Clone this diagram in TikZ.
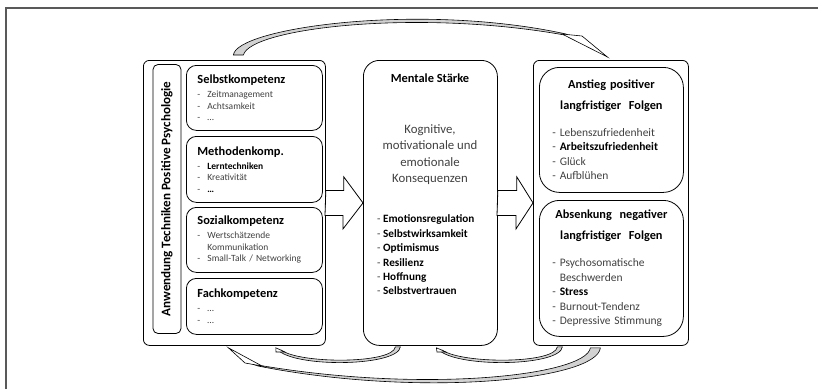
\documentclass[tikz,border=0pt]{standalone}
\usepackage{fontspec}
\setmainfont{Carlito}
\usepackage{tikz}
\definecolor{punktgrau}{HTML}{404040}
\newcommand{\kopf}[1]{{\color{black}\fontsize{12.4}{11.5}\selectfont\bfseries #1}}
\newcommand{\fett}[1]{{\color{black}\bfseries #1}}
\newcommand{\strich}{\makebox[10pt][l]{-}}

\begin{document}
\begin{tikzpicture}[x=1pt, y=-1pt,
  rahmen/.style={draw, line width=0.8pt, rounded corners=6pt},
  kompbox/.style={rahmen, rounded corners=10pt, anchor=north west, minimum width=136,
    text width=114, inner xsep=11pt, align=left, text=punktgrau,
    font=\fontsize{9.5}{11.5}\selectfont},
  folgenbox/.style={rahmen, rounded corners=20pt, anchor=north west, minimum width=144,
    text width=118, inner xsep=13pt, align=left, text=punktgrau,
    font=\fontsize{11.5}{14.5}\selectfont},
  blockpfeil/.style={draw, line width=0.8pt, fill=white, line join=miter},
  kurvenband/.style={draw, line width=0.6pt, fill=gray!35},
  kurvenspitze/.style={draw, line width=0.6pt, fill=white}]
  \useasboundingbox (0,0) rectangle (818,389);
  % Rahmen der Seite
  \draw[line width=1.2pt, gray!70!black] (6,389) -- (6,8) -- (818,8);

  % linker Block: Kompetenzen
  \node[rahmen, anchor=north west, minimum width=182, minimum height=285] (kompetenzen) at (143,60) {};
  \node[rahmen, rounded corners=5pt, rotate=90, minimum width=269, minimum height=28,
    font=\fontsize{13.1}{15}\selectfont\bfseries] (anwendung) at (167,199)
    {Anwendung Techniken Positive Psychologie};
  \node[kompbox, minimum height=65] (selbst) at (186,65)
    {\kopf{Selbstkompetenz}\\[2.5pt]\strich Zeitmanagement\\\strich Achtsamkeit\\\strich\dots};
  \node[kompbox, minimum height=66] (methoden) at (186,136)
    {\kopf{Methodenkomp.}\\[2.5pt]\strich\fett{Lerntechniken}\\\strich Kreativität\\\strich\fett{\dots}};
  \node[kompbox, minimum height=65] (sozial) at (186,207)
    {\kopf{Sozialkompetenz}\\[2.5pt]\strich Wertschätzende\\\hspace*{10pt}Kommunikation\\\strich Small-Talk / Networking};
  \node[kompbox, minimum height=56] (fach) at (186,278)
    {\kopf{Fachkompetenz}\\[2.5pt]\strich\dots\\\strich\dots};

  % mittlerer Block: Mentale Staerke
  \node[rahmen, rounded corners=16pt, anchor=north west, minimum width=134, minimum height=285] (staerke) at (363,60) {};
  \node[inner sep=0pt, font=\fontsize{12.4}{14}\selectfont\bfseries] (staerketitel) at (430,78) {Mentale Stärke};
  \node[inner sep=0pt, align=center, text=punktgrau, font=\fontsize{12.8}{16.3}\selectfont] (staerketext) at (430,154.5)
    {Kognitive,\\motivationale und\\emotionale\\Konsequenzen};
  \node[inner sep=0pt, anchor=west, align=left, text=punktgrau, font=\fontsize{11.2}{14.4}\selectfont] (staerkeliste) at (377,255)
    {- \fett{Emotionsregulation}\\- \fett{Selbstwirksamkeit}\\- \fett{Optimismus}\\- \fett{Resilienz}\\- \fett{Hoffnung}\\- \fett{Selbstvertrauen}};

  % rechter Block: langfristige Folgen
  \node[rahmen, anchor=north west, minimum width=155, minimum height=285] (folgen) at (533,60) {};
  \node[folgenbox, minimum height=125] (anstieg) at (539,67)
    {{\centering\color{black}\fontsize{12.3}{21}\selectfont\bfseries Anstieg positiver\\langfristiger\ \ Folgen\par}\vspace{12.5pt}
     - Lebenszufriedenheit\\- \fett{Arbeitszufriedenheit}\\- Glück\\- Aufblühen};
  \node[folgenbox, minimum height=136] (absenkung) at (539,200)
    {{\centering\color{black}\fontsize{12.3}{21}\selectfont\bfseries Absenkung\ \ negativer\\langfristiger\ \ Folgen\par}\vspace{12.5pt}
     - Psychosomatische\\\hphantom{-~}Beschwerden\\- \fett{Stress}\\- Burnout-Tendenz\\- Depressive Stimmung};

  % Blockpfeile
  \draw[blockpfeil] (kompetenzen.east) ++(0,-12.5) -- ++(18,0) -- ++(0,-13.5) -- (staerke.west)
    -- ++(-20,26) -- ++(0,-13.5) -- ++(-18,0) -- cycle;
  \draw[blockpfeil] (staerke.east) ++(0,-12.5) -- ++(19,0) -- ++(0,-13.5) -- (folgen.west)
    -- ++(-17,26) -- ++(0,-13.5) -- ++(-19,0) -- cycle;

  % gebogene Rueckkopplungspfeile
  \coordinate (obenstart) at ([xshift=-1pt,yshift=5pt]kompetenzen.north);
  \coordinate (obenziel) at ([xshift=-3.5pt,yshift=3pt]folgen.north);
  \draw[kurvenband] (obenstart) .. controls (236,28) and (420,2) .. (566,34)
    -- (570,36) .. controls (420,8) and (250,28) .. ([xshift=10pt]obenstart) -- cycle;
  \draw[kurvenspitze] (562,34) -- (obenziel) -- (582,36) -- cycle;

  \coordinate (untenstart) at ([xshift=-10.5pt,yshift=-2pt]folgen.south);
  \coordinate (untenziel) at ([xshift=-6pt,yshift=-2pt]kompetenzen.south);
  \draw[kurvenband] (untenstart) .. controls (597,380) and (420,398) .. (258,366)
    -- (252,364) .. controls (420,394) and (586,376) .. ([xshift=-10pt]untenstart) -- cycle;
  \draw[kurvenspitze] (untenziel) -- (245,363) -- (262,366) -- cycle;

  \coordinate (linksstart) at ([xshift=-30pt,yshift=-1pt]staerke.south);
  \coordinate (linksziel) at ([xshift=-50pt,yshift=-2pt]kompetenzen.south east);
  \draw[kurvenband] (linksstart) .. controls (398,366) and (300,368) .. (279,351)
    -- (281,350) .. controls (300,364) and (393,364) .. ([xshift=-5pt]linksstart) -- cycle;
  \draw[kurvenspitze] (linksziel) -- (276,352) -- (285,352) -- cycle;

  \coordinate (rechtsstart) at ([xshift=-48.5pt,yshift=-1pt]folgen.south);
  \coordinate (rechtsziel) at ([xshift=6pt,yshift=-2pt]staerke.south);
  \draw[kurvenband] (rechtsstart) .. controls (560,366) and (462,368) .. (440,351)
    -- (442,350) .. controls (462,364) and (555,364) .. ([xshift=-5pt]rechtsstart) -- cycle;
  \draw[kurvenspitze] (rechtsziel) -- (437,352) -- (446,352) -- cycle;
\end{tikzpicture}
\end{document}
